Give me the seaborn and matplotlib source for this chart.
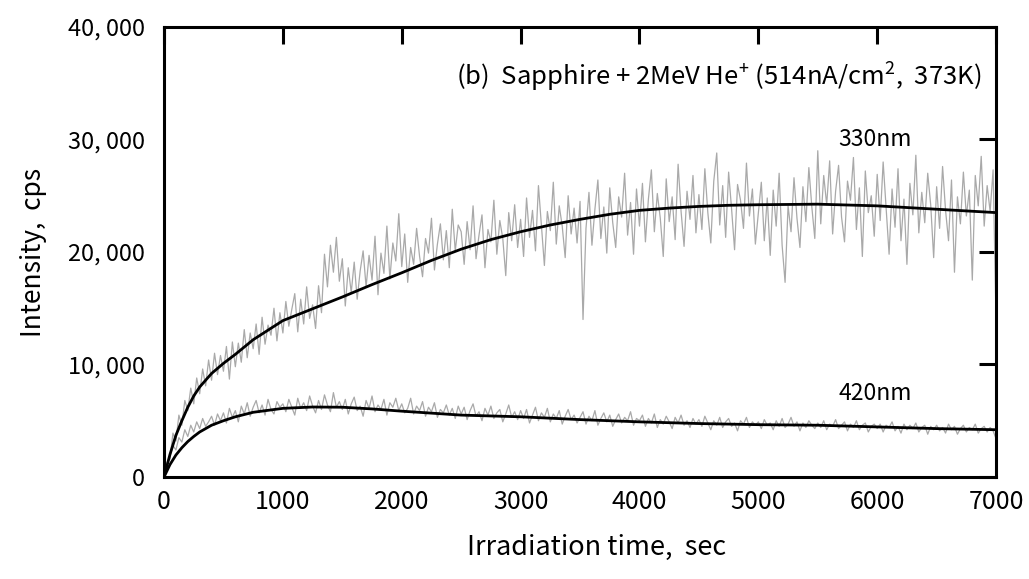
import numpy as np
import pandas as pd
import matplotlib
matplotlib.use("Agg")
import matplotlib.pyplot as plt
import seaborn as sns

# ---------------- data (intensity in thousands of cps) ----------------
STEP = 25  # sec between measured points
raw_330 = [
    0.0, 1.3, 1.6, 3.9, 3.2, 5.5, 4.6, 6.8, 5.9, 7.9, 6.5, 8.8, 7.4, 9.6, 8.1, 10.4, 8.6, 11.0, 9.1, 10.8,
    9.4, 11.6, 8.7, 12.0, 9.8, 11.9, 10.2, 13.1, 10.6, 12.8, 11.4, 13.6, 10.9, 14.2, 11.8, 13.5, 12.6, 15.0, 12.1, 14.6,
    12.8, 15.6, 13.4, 14.9, 16.3, 12.9, 15.8, 13.6, 16.9, 14.1, 15.3, 13.2, 17.0, 14.6, 19.8, 16.9, 20.6, 18.2, 21.3, 17.4,
    19.4, 15.2, 18.6, 16.4, 19.1, 15.8, 18.3, 20.1, 16.9, 19.7, 17.5, 21.4, 16.2, 19.9, 18.1, 22.3, 17.6, 20.8, 19.2, 23.4,
    18.7, 21.6, 17.3, 20.4, 18.9, 22.1, 19.6, 17.8, 21.2, 19.9, 23.0, 18.4, 20.7, 22.5, 19.3, 21.9, 18.6, 23.8, 20.1, 22.4,
    21.8, 18.9, 22.7, 20.2, 24.1, 19.4, 21.5, 23.3, 18.6, 22.0, 20.9, 24.6, 19.8, 22.8, 21.2, 17.9, 23.5, 21.0, 24.2, 20.4,
    22.9, 19.6, 24.8, 21.3, 23.7, 20.1, 25.9, 22.4, 18.8, 23.6, 21.9, 26.2, 20.7, 24.1, 22.3, 19.5, 25.0, 21.6, 23.9, 20.8,
    24.5, 14.0, 22.1, 25.3, 20.6, 23.8, 26.4, 21.2, 24.0, 19.9, 25.7, 22.6, 20.4, 24.9, 23.1, 27.0, 21.5, 24.4, 19.8, 25.6,
    22.3, 26.1, 20.9, 24.7, 27.3, 21.8, 25.2, 23.0, 19.6, 26.5, 22.7, 24.9, 21.1, 27.8, 23.6, 20.5, 25.4, 22.9, 26.8, 21.7,
    25.1, 22.0, 27.4, 23.5, 20.8, 26.3, 28.8, 22.4, 25.9, 21.3, 27.1, 23.8, 20.2, 26.0, 24.6, 22.1, 27.9, 23.2, 25.6, 20.7,
    23.4, 26.2, 21.0, 24.8, 19.7, 25.5, 22.3, 27.0, 20.6, 17.3, 24.1, 21.8, 26.6, 23.0, 20.4, 25.8, 22.7, 27.5, 24.0, 21.2,
    29.0, 22.5, 26.8, 24.2, 28.1, 21.6, 25.4, 27.7, 23.1, 20.9, 26.3, 24.6, 28.4, 22.0, 25.7, 19.6, 27.2, 23.5, 25.0, 21.4,
    26.9, 22.8, 28.0, 23.9, 19.8, 25.6, 22.2, 27.4, 21.0, 24.7, 18.9, 26.1, 23.3, 28.6, 21.7, 25.3, 22.6, 27.0, 24.2, 19.5,
    25.8, 22.1, 27.6, 23.7, 21.0, 26.4, 18.2, 24.9, 22.5, 27.1, 23.2, 25.5, 17.5, 26.8, 24.1, 28.5, 22.3, 25.9, 23.6, 27.3,
    13.8,
]
raw_420 = [
    0.0, 1.2, 1.9, 2.8, 2.4, 3.5, 3.1, 4.2, 3.6, 4.6, 4.0, 4.9, 4.3, 5.2, 4.5, 4.9, 5.4, 4.6, 5.6, 5.0,
    5.7, 4.8, 6.1, 5.3, 5.9, 4.9, 6.3, 5.6, 6.6, 5.4, 6.2, 6.8, 5.7, 6.4, 5.5, 6.9, 6.0, 5.6, 6.7, 6.2,
    6.5, 5.8, 6.9, 6.2, 5.5, 7.0, 6.1, 6.6, 5.9, 7.2, 6.3, 5.7, 6.8, 6.0, 7.3, 6.4, 5.8, 7.5, 6.2, 6.7,
    6.0, 6.9, 5.6, 6.5, 7.1, 5.9, 6.3, 5.4, 6.8, 6.1, 7.2, 5.8, 6.4, 6.0, 6.9, 5.5, 6.6, 6.2, 7.0, 5.9,
    6.5, 5.7, 6.1, 7.0, 5.6, 6.3, 5.9, 6.7, 5.4, 6.2, 5.8, 6.6, 5.3, 6.0, 5.7, 6.4, 5.5, 6.1, 5.2, 6.3,
    5.6, 6.2, 5.1, 5.9, 6.5, 5.4, 5.8, 5.0, 6.1, 5.5, 6.3, 5.2, 5.7, 6.0, 4.9, 5.6, 6.4, 5.3, 5.8, 5.1,
    5.9, 5.2, 6.0, 4.8, 5.5, 6.2, 5.0, 5.7, 5.3, 6.1, 4.9, 5.6, 5.2, 5.9, 4.7, 5.4, 6.0, 5.1, 5.5, 4.8,
    5.3, 5.8, 4.7, 5.4, 5.0, 5.9, 4.6, 5.2, 5.7, 4.9, 5.5, 4.5, 5.1, 5.6, 4.8, 5.3, 5.0, 5.8, 4.6, 5.2,
    5.0, 5.5, 4.5, 5.2, 4.8, 5.6, 4.4, 5.1, 4.7, 5.4, 4.9, 4.3, 5.3, 4.8, 5.5, 4.6, 5.0, 4.4, 5.2, 4.7,
    5.1, 4.5, 5.4, 4.8, 4.2, 5.0, 4.6, 5.3, 4.4, 4.9, 5.2, 4.5, 4.8, 4.1, 5.0, 4.7, 5.3, 4.4, 4.9, 4.6,
    4.9, 4.3, 5.1, 4.6, 4.8, 4.2, 5.0, 4.5, 5.2, 4.4, 4.7, 5.3, 4.5, 4.9, 4.1, 4.8, 4.4, 5.0, 4.6, 4.3,
    4.8, 4.4, 5.0, 4.2, 4.7, 4.5, 5.1, 4.3, 4.6, 4.9, 4.1, 4.7, 4.4, 5.0, 4.2, 4.6, 4.8, 4.0, 4.5, 4.7,
    4.3, 4.7, 4.0, 4.6, 4.4, 4.9, 4.1, 4.5, 3.9, 4.7, 4.2, 4.6, 4.3, 4.8, 4.0, 4.4, 4.6, 3.8, 4.5, 4.2,
    4.6, 4.1, 4.4, 3.9, 4.7, 4.2, 4.5, 3.8, 4.3, 4.6, 4.0, 4.4, 4.2, 4.7, 3.9, 4.3, 4.5, 4.0, 4.4, 4.1,
    3.4,
]

# fitted curves
fit_t_330 = [0, 50, 100, 150, 200, 250, 300, 400, 500, 600, 750, 1000, 1250, 1500, 1750, 2000,
             2250, 2500, 2750, 3000, 3250, 3500, 3750, 4000, 4250, 4500, 4750, 5000, 5500, 6000, 6500, 7000]
fit_v_330 = [0, 2.0, 3.7, 5.0, 6.2, 7.2, 8.0, 9.2, 10.1, 10.9, 12.2, 13.9, 14.95, 16.0, 17.1, 18.15,
             19.25, 20.25, 21.1, 21.8, 22.4, 22.9, 23.35, 23.7, 23.9, 24.05, 24.15, 24.2, 24.25, 24.1, 23.8, 23.5]
fit_t_420 = [0, 50, 100, 150, 200, 250, 300, 400, 500, 600, 750, 1000, 1250, 1500, 1750, 2000,
             2500, 3000, 3500, 4000, 4500, 5000, 5500, 6000, 6500, 7000]
fit_v_420 = [0, 1.1, 1.95, 2.6, 3.15, 3.6, 4.0, 4.6, 5.0, 5.35, 5.75, 6.1, 6.22, 6.2, 6.05, 5.85,
             5.5, 5.35, 5.1, 4.9, 4.75, 4.65, 4.6, 4.45, 4.3, 4.2]

x_ticks = [0, 1000, 2000, 3000, 4000, 5000, 6000, 7000]
y_ticks = [0, 10000, 20000, 30000, 40000]
y_tick_labels = ["0", "10, 000", "20, 000", "30, 000", "40, 000"]

# ---------------- style ----------------
sns.set_theme(style="white")
plt.rcParams['font.family'] = ['Noto Sans CJK JP', 'DejaVu Sans']
plt.rcParams['mathtext.default'] = 'regular'
plt.rcParams['text.color'] = 'black'
plt.rcParams['axes.labelcolor'] = 'black'

GRAY = "#a9a9a9"

raw = pd.DataFrame({
    "t": np.arange(len(raw_330)) * STEP,
    "330nm": np.array(raw_330) * 1000,
    "420nm": np.array(raw_420) * 1000,
})
fit330 = pd.DataFrame({"t": fit_t_330, "v": np.array(fit_v_330) * 1000})
fit420 = pd.DataFrame({"t": fit_t_420, "v": np.array(fit_v_420) * 1000})

fig = plt.figure(figsize=(10.29, 5.79), dpi=100)
ax = fig.add_axes([0.1594, 0.1762, 0.8086, 0.7772])

# measured signal (gray) then fitted curves (black)
sns.lineplot(data=raw, x="t", y="330nm", ax=ax, color=GRAY, lw=0.9, estimator=None)
sns.lineplot(data=raw, x="t", y="420nm", ax=ax, color=GRAY, lw=0.9, estimator=None)
sns.lineplot(data=fit330, x="t", y="v", ax=ax, color="black", lw=2.0, estimator=None)
sns.lineplot(data=fit420, x="t", y="v", ax=ax, color="black", lw=2.0, estimator=None)

ax.set_xlim(0, 7000)
ax.set_ylim(0, 40000)
ax.set_xticks(x_ticks)
ax.set_yticks(y_ticks)
ax.set_yticklabels(y_tick_labels)

for sp in ax.spines.values():
    sp.set_visible(True)
    sp.set_color("black")
    sp.set_linewidth(2.2)

ax.tick_params(axis="both", which="major", direction="in", length=12, width=2.2,
               top=True, right=True, colors="black")
ax.tick_params(axis="x", labelsize=18, pad=9)
ax.tick_params(axis="y", labelsize=17, pad=14)

ax.set_xlabel("Irradiation time,  sec", fontsize=19.5, labelpad=13, x=0.52)
ax.set_ylabel("Intensity,  cps", fontsize=19, labelpad=15)

ax.text(6880, 35500, "(b)  Sapphire + 2MeV He$^{+}$ (514nA/cm$^{2}$,  373K)",
        ha="right", va="center", fontsize=18.5)
ax.text(5980, 30000, "330nm", ha="center", va="center", fontsize=16.5)
ax.text(5980, 7400, "420nm", ha="center", va="center", fontsize=16.5)

fig.savefig("out.png", dpi=100)
